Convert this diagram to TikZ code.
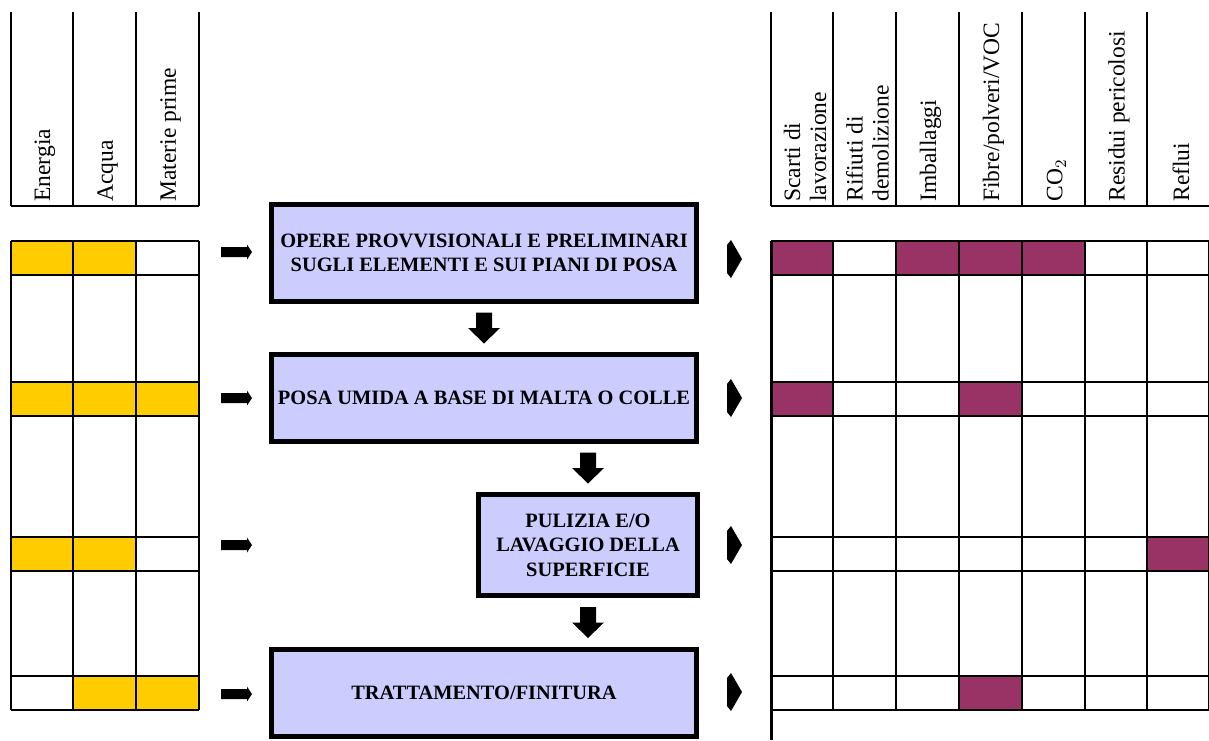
\documentclass[tikz,border=0pt]{standalone}
\usepackage{fontspec}
\setmainfont{Liberation Serif}
\usetikzlibrary{calc}
\definecolor{boxfill}{HTML}{CCCCFF}
\definecolor{inyellow}{HTML}{FFCC00}
\definecolor{outpurple}{HTML}{993366}
\tikzset{
  phasebox/.style={draw,line width=2.5pt,fill=boxfill,inner sep=0pt,align=center,
    font=\fontsize{10.2}{12.2}\selectfont\bfseries},
  tabline/.style={line width=1.2pt},
  colhead/.style={rotate=90,anchor=west,inner sep=0pt,align=left,
    font=\fontsize{11.75}{13}\selectfont},
  inarrow/.pic={\fill (0,-5)--(26,-5)--(26,-7.5)--(31,0)--(26,7.5)--(26,5)--(0,5)--cycle;},
  outarrow/.pic={\fill (0,-14)--(4,-19)--(15,0)--(4,19)--(0,14)--cycle;},
  downarrow/.pic={\fill (-8,-15.5)--(8,-15.5)--(8,0)--(16,0)--(0,15.5)--(-16,0)--(-8,0)--cycle;}
}
\begin{document}
\begin{tikzpicture}[x=0.5pt,y=-0.5pt]
\useasboundingbox (0,0) rectangle (1209,740);
% column headings
\foreach \x/\txt in {42/Energia,104.5/Acqua,167.5/Materie prime,
  802/{Scarti di\\lavorazione},864.5/{Rifiuti di\\demolizione},927.5/Imballaggi,
  990.5/{Fibre/polveri/VOC},1053.5/CO$_2$,1116/Residui pericolosi,1178/Reflui}
  \node[colhead] (h\x) at (\x+3,202) {\txt};
\foreach \x in {11,73,136,199} \draw[tabline] (\x,12)--(\x,206);
\foreach \x in {771,833,896,959,1022,1085,1147} \draw[tabline] (\x,12)--(\x,206);
\draw[tabline] (11,206)--(199,206);
\draw[tabline] (771,206)--(1209,206);
% inputs
\fill[inyellow] (11,241) rectangle (136,275);
\fill[inyellow] (11,382) rectangle (199,416);
\fill[inyellow] (11,537) rectangle (136,571);
\fill[inyellow] (73,676) rectangle (199,710);
% outputs
\fill[outpurple] (771,241) rectangle (833,275);
\fill[outpurple] (896,241) rectangle (1085,275);
\fill[outpurple] (771,382) rectangle (833,416);
\fill[outpurple] (959,382) rectangle (1022,416);
\fill[outpurple] (1147,537) rectangle (1209,571);
\fill[outpurple] (959,676) rectangle (1022,710);
\foreach \y in {241,275,382,416,537,571,676,710}{
  \draw[tabline] (11,\y)--(199,\y);
  \draw[tabline] (771,\y)--(1209,\y);
}
\foreach \x in {11,73,136,199} \draw[tabline] (\x,241)--(\x,710);
\foreach \x in {833,896,959,1022,1085,1147,1209} \draw[tabline] (\x,241)--(\x,710);
\draw[line width=1.5pt] (771,241)--(771,740);
% phases
\node[phasebox,minimum width=212.5pt,minimum height=48.5pt] (opere) at (484,253)
  {OPERE PROVVISIONALI E PRELIMINARI\\SUGLI ELEMENTI E SUI PIANI DI POSA};
\node[phasebox,minimum width=212.5pt,minimum height=43.5pt] (posa) at (484,398)
  {POSA UMIDA A BASE DI MALTA O COLLE};
\node[phasebox,minimum width=109.5pt,minimum height=50.5pt] (pulizia) at (588,545)
  {PULIZIA E/O\\LAVAGGIO DELLA\\SUPERFICIE};
\node[phasebox,minimum width=212.5pt,minimum height=43.5pt] (finitura) at (484,693)
  {TRATTAMENTO/FINITURA};
\path ($(opere.south)!0.5!(posa.north)$) pic{downarrow};
\path ($(pulizia.north)+(0,-24)$) pic{downarrow};
\path ($(pulizia.south)+(0,24.5)$) pic{downarrow};
\foreach \y in {252,398,545,694} \path (221,\y) pic{inarrow};
\foreach \y in {259,398,545,692} \path (727,\y) pic{outarrow};
\end{tikzpicture}
\end{document}
